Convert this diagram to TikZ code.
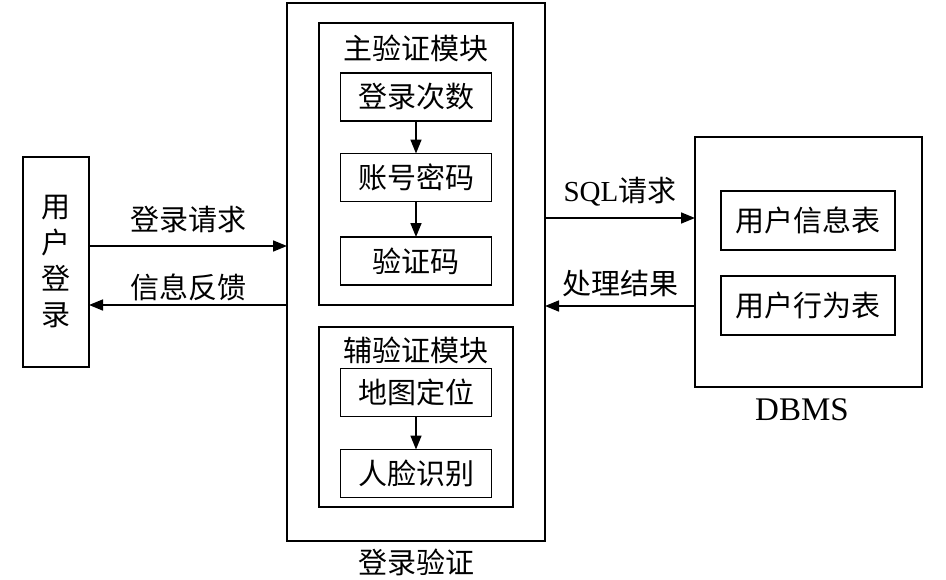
\documentclass[tikz,border=0pt]{standalone}
\usepackage{fontspec}
\setmainfont{Noto Sans CJK SC}
\newfontfamily\latin{Liberation Serif}
\usetikzlibrary{arrows.meta}

\begin{document}
\begin{tikzpicture}[x=1pt, y=-1pt, line width=1.6pt,
    font=\fontsize{29}{35}\selectfont,
    box/.style={draw, inner sep=0pt, outer sep=0pt},
    arr/.style={-{Triangle[length=14pt,width=11pt]}},
    lbl/.style={inner sep=0pt}]
  \useasboundingbox (0,0) rectangle (946,579);
  % user
  \node[box, minimum width=66pt, minimum height=210pt, align=center,
    font=\fontsize{29}{36}\selectfont] (user) at (56,262) {用\\户\\登\\录};
  % login check
  \node[box, minimum width=258pt, minimum height=538pt] (check) at (416,272) {};
  \node[lbl] (checkname) at (416,562) {登录验证};
  \node[box, minimum width=194pt, minimum height=282pt] (main) at (416,164) {};
  \node[lbl] (maintitle) at (416,48) {主验证模块};
  \node[box, minimum width=194pt, minimum height=180pt] (aux) at (416,417) {};
  \node[lbl] (auxtitle) at (416,350) {辅验证模块};
  \foreach \n/\y/\t in {b1/97/登录次数, b2/177.5/账号密码, b3/261/验证码,
      b4/392.5/地图定位, b5/473.5/人脸识别}
    \node[box, minimum width=151pt, minimum height=48pt] (\n) at (416,\y) {\t};
  \foreach \a/\b in {b1/b2, b2/b3, b4/b5}
    \draw[arr] (\a) -- (\b);
  % dbms
  \node[box, minimum width=227pt, minimum height=250pt] (dbms) at (808.5,262) {};
  \node[lbl] (dbmsname) at (802,410) {\latin\fontsize{33}{36}\selectfont DBMS};
  \node[box, minimum width=174pt, minimum height=59pt] (t1) at (808,220.5) {用户信息表};
  \node[box, minimum width=174pt, minimum height=59pt] (t2) at (808,305.5) {用户行为表};
  % requests and replies
  \draw[arr] ([yshift=16pt]user.east) -- ([yshift=16pt]user.east -| check.west)
    node[lbl, midway, yshift=26pt] (req) {登录请求};
  \draw[arr] ([yshift=-43pt]user.east -| check.west) -- ([yshift=-43pt]user.east)
    node[lbl, midway, yshift=18pt] (fb) {信息反馈};
  \draw[arr] ([yshift=44pt]check.east |- dbms.west) -- ([yshift=44pt]dbms.west)
    node[lbl, midway, yshift=26pt] (sql) {{\latin SQL}请求};
  \draw[arr] ([yshift=-44pt]dbms.west) -- ([yshift=-44pt]check.east |- dbms.west)
    node[lbl, midway, yshift=23pt] (res) {处理结果};
\end{tikzpicture}
\end{document}
